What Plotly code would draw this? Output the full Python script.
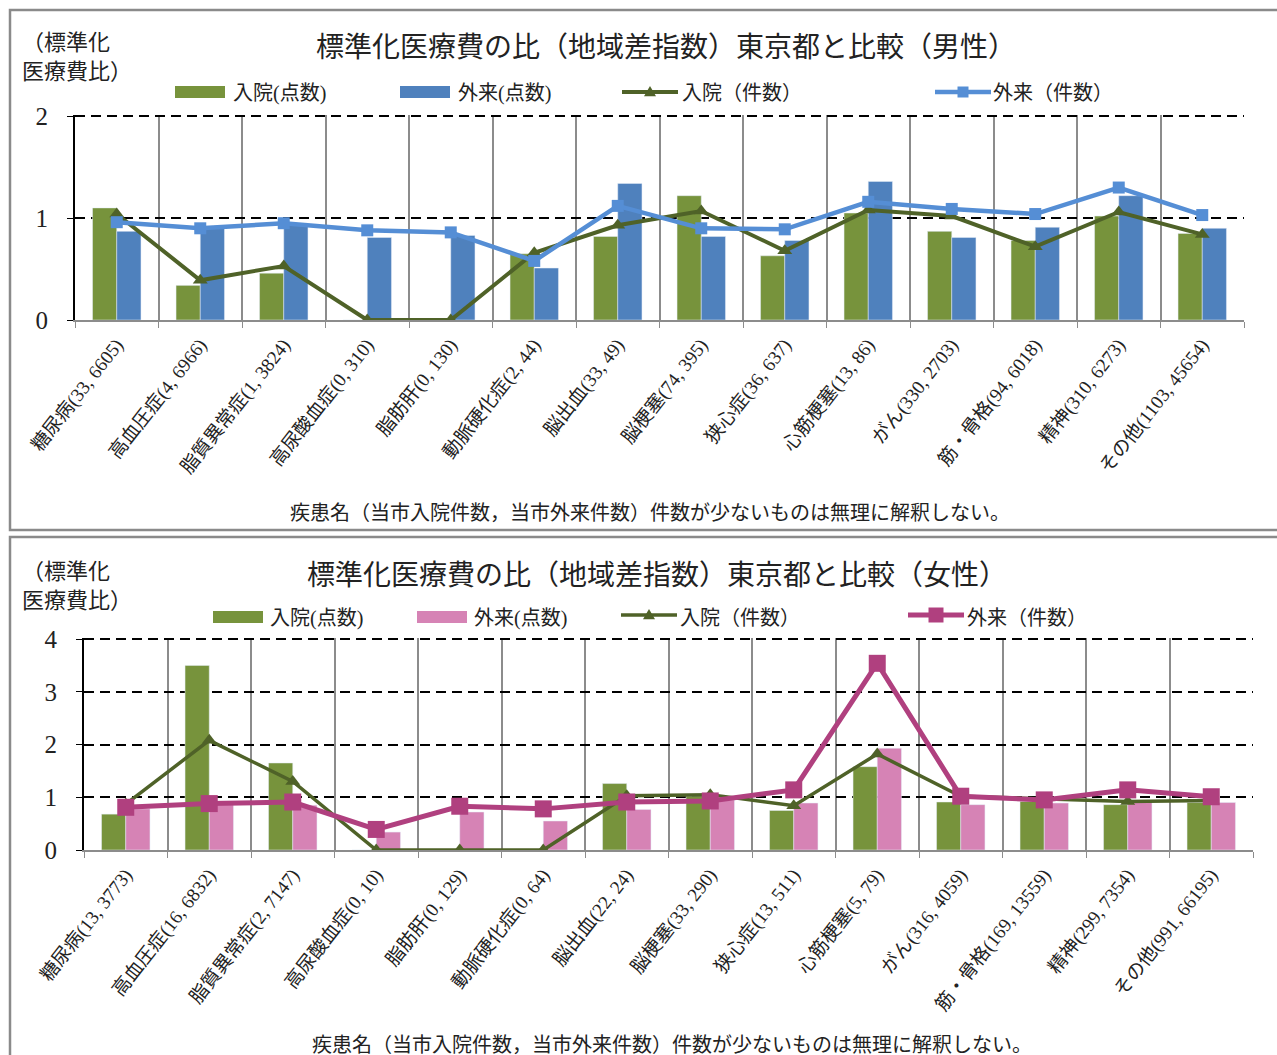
import plotly.graph_objects as go

W, H = 1277, 1055
FONT = "Liberation Serif, Noto Sans CJK JP"

# ---- data -------------------------------------------------------------
male_labels = [
    "糖尿病(33, 6605)", "高血圧症(4, 6966)", "脂質異常症(1, 3824)", "高尿酸血症(0, 310)",
    "脂肪肝(0, 130)", "動脈硬化症(2, 44)", "脳出血(33, 49)", "脳梗塞(74, 395)",
    "狭心症(36, 637)", "心筋梗塞(13, 86)", "がん(330, 2703)", "筋・骨格(94, 6018)",
    "精神(310, 6273)", "その他(1103, 45654)",
]
female_labels = [
    "糖尿病(13, 3773)", "高血圧症(16, 6832)", "脂質異常症(2, 7147)", "高尿酸血症(0, 10)",
    "脂肪肝(0, 129)", "動脈硬化症(0, 64)", "脳出血(22, 24)", "脳梗塞(33, 290)",
    "狭心症(13, 511)", "心筋梗塞(5, 79)", "がん(316, 4059)", "筋・骨格(169, 13559)",
    "精神(299, 7354)", "その他(991, 66195)",
]

# male: inpatient / outpatient, by points (bars) and by case counts (lines)
male_in_points = [1.10, 0.34, 0.46, 0.00, 0.00, 0.65, 0.82, 1.22, 0.63, 1.05, 0.87, 0.78, 1.02, 0.85]
male_out_points = [0.87, 0.91, 0.95, 0.81, 0.83, 0.51, 1.34, 0.82, 0.78, 1.36, 0.81, 0.91, 1.22, 0.90]
male_in_cases = [1.04, 0.39, 0.53, 0.00, 0.00, 0.66, 0.93, 1.07, 0.68, 1.08, 1.02, 0.72, 1.06, 0.84]
male_out_cases = [0.96, 0.90, 0.95, 0.88, 0.86, 0.58, 1.12, 0.90, 0.89, 1.16, 1.09, 1.04, 1.30, 1.03]

# female
female_in_points = [0.68, 3.50, 1.65, 0.00, 0.00, 0.00, 1.26, 1.02, 0.75, 1.58, 0.91, 0.92, 0.86, 0.90]
female_out_points = [0.78, 0.86, 0.85, 0.34, 0.72, 0.55, 0.77, 0.95, 0.89, 1.93, 0.86, 0.89, 0.90, 0.90]
female_in_cases = [0.87, 2.08, 1.30, 0.00, 0.00, 0.00, 1.03, 1.05, 0.84, 1.82, 1.02, 0.97, 0.92, 0.94]
female_out_cases = [0.81, 0.88, 0.91, 0.39, 0.83, 0.78, 0.91, 0.93, 1.14, 3.54, 1.02, 0.95, 1.14, 1.01]

male_yticks = [0, 1, 2]
female_yticks = [0, 1, 2, 3, 4]

# ---- colours ----------------------------------------------------------
C_IN_BAR = "#77933C"
C_OUT_BAR_M = "#4F81BD"
C_OUT_BAR_F = "#D683B5"
C_IN_LINE = "#4F6228"
C_OUT_LINE_M = "#558ED5"
C_OUT_LINE_F = "#B0407F"


def px(x, y):
    """pixel position -> paper coordinates"""
    return x / W, 1 - y / H


fig = go.Figure()

# ---- male panel -------------------------------------------------------
fig.add_bar(x=male_labels, y=male_in_points, marker_color=C_IN_BAR, xaxis="x", yaxis="y",
            name="入院(点数)", showlegend=False)
fig.add_bar(x=male_labels, y=male_out_points, marker_color=C_OUT_BAR_M, xaxis="x", yaxis="y",
            name="外来(点数)", showlegend=False)
fig.add_scatter(x=male_labels, y=male_in_cases, mode="lines+markers", xaxis="x", yaxis="y",
                line=dict(color=C_IN_LINE, width=4),
                marker=dict(symbol="triangle-up", size=13, color=C_IN_LINE),
                name="入院（件数）", showlegend=False)
fig.add_scatter(x=male_labels, y=male_out_cases, mode="lines+markers", xaxis="x", yaxis="y",
                line=dict(color=C_OUT_LINE_M, width=4.5),
                marker=dict(symbol="square", size=12, color=C_OUT_LINE_M),
                name="外来（件数）", showlegend=False)

# ---- female panel -----------------------------------------------------
fig.add_bar(x=female_labels, y=female_in_points, marker_color=C_IN_BAR, xaxis="x2", yaxis="y2",
            name="入院(点数)", showlegend=False)
fig.add_bar(x=female_labels, y=female_out_points, marker_color=C_OUT_BAR_F, xaxis="x2", yaxis="y2",
            name="外来(点数)", showlegend=False)
fig.add_scatter(x=female_labels, y=female_in_cases, mode="lines+markers", xaxis="x2", yaxis="y2",
                line=dict(color=C_IN_LINE, width=3.5),
                marker=dict(symbol="triangle-up", size=13, color=C_IN_LINE),
                name="入院（件数）", showlegend=False)
fig.add_scatter(x=female_labels, y=female_out_cases, mode="lines+markers", xaxis="x2", yaxis="y2",
                line=dict(color=C_OUT_LINE_F, width=5),
                marker=dict(symbol="square", size=17, color=C_OUT_LINE_F),
                name="外来（件数）", showlegend=False)

xaxis_common = dict(
    type="category", tickson="boundaries", showgrid=True, gridcolor="#8c8c8c", gridwidth=1.5,
    showline=True, linecolor="#8c8c8c", linewidth=2, ticks="outside", ticklen=6,
    tickcolor="#8c8c8c", tickangle=-52, ticklabelstandoff=4, automargin=False,
    tickfont=dict(family=FONT, size=19, color="#222"), fixedrange=True,
    range=[-0.5, 13.5],
)
yaxis_common = dict(
    showgrid=True, gridcolor="black", gridwidth=2, griddash="10px,6px", zeroline=False,
    showline=True, linecolor="black", linewidth=2, ticks="outside", ticklen=6,
    tickcolor="black", ticklabelstandoff=14, automargin=False,
    tickfont=dict(family=FONT, size=25, color="#222"), fixedrange=True,
)

x0m, y0m = px(75, 320)
x1m, y1m = px(1244, 115)
x0f, y0f = px(84, 850)
x1f, y1f = px(1253, 638)

fig.update_layout(
    width=W, height=H,
    margin=dict(l=0, r=0, t=0, b=0, autoexpand=False),
    paper_bgcolor="white", plot_bgcolor="white",
    barmode="group", bargap=0.42, bargroupgap=0,
    font=dict(family=FONT, color="#222"),
    xaxis=dict(xaxis_common, domain=[x0m, x1m], anchor="y"),
    yaxis=dict(yaxis_common, domain=[y0m, y1m], range=[0, 2.012], tickvals=male_yticks, anchor="x"),
    xaxis2=dict(xaxis_common, domain=[x0f, x1f], anchor="y2"),
    yaxis2=dict(yaxis_common, domain=[y0f, y1f], range=[0, 4.02], tickvals=female_yticks, anchor="x2"),
)

shapes = []
annotations = []

# panel frames
for (l, t, r, b) in [(10, 10, 1279, 530), (10, 537, 1279, 1060)]:
    xa, ya = px(l, t)
    xb, yb = px(r, b)
    shapes.append(dict(type="rect", xref="paper", yref="paper", x0=xa, y0=yb, x1=xb, y1=ya,
                       line=dict(color="#8a8a8a", width=2.5), layer="below"))


def text(x, y, s, size, xanchor="left"):
    ax, ay = px(x, y)
    annotations.append(dict(x=ax, y=ay, xref="paper", yref="paper", text=s, showarrow=False,
                            xanchor=xanchor, yanchor="middle", align="left",
                            font=dict(family=FONT, size=size, color="#222")))


def legend_rect(x, y, color):
    xa, ya = px(x, y - 6)
    xb, yb = px(x + 50, y + 6)
    shapes.append(dict(type="rect", xref="paper", yref="paper", x0=xa, y0=yb, x1=xb, y1=ya,
                       fillcolor=color, line=dict(width=0)))


def legend_line(x, y, color, width, marker, msize):
    xa, ya = px(x, y)
    xb, _ = px(x + 56, y)
    shapes.append(dict(type="line", xref="paper", yref="paper", x0=xa, y0=ya, x1=xb, y1=ya,
                       line=dict(color=color, width=width)))
    cx = x + 28
    h = msize / 2
    if marker == "square":
        p0 = px(cx - h, y - h)
        p1 = px(cx + h, y + h)
        shapes.append(dict(type="rect", xref="paper", yref="paper", x0=p0[0], y0=p1[1],
                           x1=p1[0], y1=p0[1], fillcolor=color, line=dict(width=0)))
    else:
        a = px(cx - h, y + h * 0.7)
        b = px(cx + h, y + h * 0.7)
        c = px(cx, y - h)
        shapes.append(dict(type="path", xref="paper", yref="paper",
                           path=f"M{a[0]},{a[1]} L{b[0]},{b[1]} L{c[0]},{c[1]} Z",
                           fillcolor=color, line=dict(width=0)))


# male headings and legend
text(666, 47, "標準化医療費の比（地域差指数）東京都と比較（男性）", 28, "center")
text(20, 57, "（標準化<br>医療費比）", 22)
legend_rect(175, 92, C_IN_BAR)
text(231, 93, "入院(点数)", 20)
legend_rect(400, 92, C_OUT_BAR_M)
text(456, 93, "外来(点数)", 20)
legend_line(622, 92, C_IN_LINE, 4, "triangle", 12)
text(680, 93, "入院（件数）", 20)
legend_line(935, 92, C_OUT_LINE_M, 4.5, "square", 11)
text(991, 93, "外来（件数）", 20)
text(650, 513, "疾患名（当市入院件数，当市外来件数）件数が少ないものは無理に解釈しない。", 20, "center")

# female headings and legend
text(657, 575, "標準化医療費の比（地域差指数）東京都と比較（女性）", 28, "center")
text(20, 586, "（標準化<br>医療費比）", 22)
legend_rect(213, 617, C_IN_BAR)
text(268, 618, "入院(点数)", 20)
legend_rect(417, 617, C_OUT_BAR_F)
text(472, 618, "外来(点数)", 20)
legend_line(621, 615, C_IN_LINE, 3.5, "triangle", 12)
text(678, 618, "入院（件数）", 20)
legend_line(908, 615, C_OUT_LINE_F, 5, "square", 15)
text(965, 618, "外来（件数）", 20)
text(672, 1045, "疾患名（当市入院件数，当市外来件数）件数が少ないものは無理に解釈しない。", 20, "center")

fig.update_layout(shapes=shapes, annotations=annotations)

fig.write_html("out.html", config={"displayModeBar": False})
